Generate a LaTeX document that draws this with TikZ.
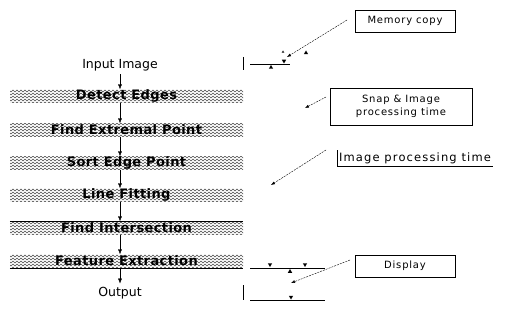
\documentclass[tikz,border=0pt]{standalone}
\usepackage{fontspec}
\setmainfont{DejaVu Sans}
\usetikzlibrary{arrows.meta,patterns,shapes.geometric}
\pgfdeclarepatternformonly{waves}{\pgfqpoint{-0.5pt}{-0.5pt}}{\pgfqpoint{4.5pt}{3.5pt}}{\pgfqpoint{4pt}{3pt}}{%
  \pgfsetlinewidth{0.45pt}%
  \pgfpathmoveto{\pgfqpoint{0pt}{1pt}}%
  \pgfpathlineto{\pgfqpoint{1pt}{2pt}}%
  \pgfpathlineto{\pgfqpoint{3pt}{0pt}}%
  \pgfpathlineto{\pgfqpoint{4pt}{1pt}}%
  \pgfusepath{stroke}}
\tikzset{%
  stepbox/.style = {pattern=waves, pattern color=black!70,%
                    minimum width=233pt, minimum height=13pt, inner sep=0pt,%
                    font=\fontsize{13}{13}\selectfont\bfseries\addfontfeatures{LetterSpace=3}},%
  plain/.style   = {font=\fontsize{12.5}{13}\selectfont},%
  notebox/.style = {draw, line width=0.5pt, align=center,%
                    font=\fontsize{10}{13}\selectfont\addfontfeatures{LetterSpace=8}},%
  flow/.style    = {-{Latex[length=5pt,width=4pt]}},%
  remark/.style  = {dash pattern=on 2pt off 1pt, -{Latex[length=4pt,width=3pt]}},%
  uptri/.style   = {regular polygon, regular polygon sides=3, fill,%
                    inner sep=0pt, minimum size=5pt},%
  downtri/.style = {uptri, shape border rotate=180}%
}
\begin{document}
\begin{tikzpicture}[x=1pt,y=-1pt]
	\useasboundingbox (0,0) rectangle (514,329);
	% flow chart
	\node [plain] (inimg) at (120,65) {Input Image};
	\node [stepbox] (edges) at (126.5,96) {Detect Edges};
	\node [stepbox] (extremal) at (126.5,130) {Find Extremal Point};
	\node [stepbox] (sortpt) at (126.5,163) {Sort Edge Point};
	\node [stepbox] (linefit) at (126.5,195) {Line Fitting};
	\node [stepbox] (intersect) at (126.5,228) {Find Intersection};
	\node [stepbox] (feature) at (126.5,261) {Feature Extraction};
	\node [plain] (output) at (120,293) {Output};
	\draw (intersect.north west) -- (intersect.north east);
	\draw (feature.south west) -- (feature.south east);
	\draw [flow] (inimg) -- (edges.north -| inimg);
	\draw [flow] (edges.south -| inimg) -- (extremal.north -| inimg);
	\draw [flow] (extremal.south -| inimg) -- (sortpt.north -| inimg);
	\draw [flow] (sortpt.south -| inimg) -- (linefit.north -| inimg);
	\draw [flow] (linefit.south -| inimg) -- (intersect.north -| inimg);
	\draw [flow] (intersect.south -| inimg) -- (feature.north -| inimg);
	\draw [flow] (feature.south -| inimg) -- (output);
	% notes
	\node [notebox, minimum width=100pt, minimum height=22pt] (memcopy) at (405,21) {Memory copy};
	\node [notebox, minimum width=142pt, minimum height=37pt] (snap) at (401,106.5) {Snap \& Image\\processing time};
	\node [inner sep=2pt, font=\fontsize{11.5}{13}\selectfont\addfontfeatures{LetterSpace=10}] (imgproc) at (415,158) {Image processing time};
	\draw (imgproc.north west) -- (imgproc.south west) -- (imgproc.south east);
	\node [notebox, minimum width=100pt, minimum height=22pt] (display) at (405,266) {Display};
	% timing marks
	\draw (243,57) -- (243,70);
	\draw (250,64) -- (290,64);
	\node [downtri] (t1) at (284,61) {};
	\node [uptri] (t2) at (271,67.5) {};
	\node [uptri] (t3) at (306,53) {};
	\node [uptri, minimum size=3pt] (t4) at (283,52) {};
	\draw (250,268) -- (325,268);
	\node [downtri] (t5) at (270,264.5) {};
	\node [downtri] (t6) at (305,264.5) {};
	\node [uptri] (t7) at (290,271.5) {};
	\draw (243,285) -- (243,300);
	\draw (250,300) -- (325,300);
	\node [downtri] (t8) at (291,297) {};
	% pointers
	\coordinate (m0) at (347,20);
	\coordinate (m1) at (287,57);
	\coordinate (s0) at (326,97);
	\coordinate (s1) at (305,108);
	\coordinate (i0) at (326,150);
	\coordinate (i1) at (271,185);
	\coordinate (d0) at (350,260);
	\coordinate (d1) at (291,283);
	\draw [remark] (m0) -- (m1);
	\draw [remark] (s0) -- (s1);
	\draw [remark] (i0) -- (i1);
	\draw [remark] (d0) -- (d1);
\end{tikzpicture}
\end{document}
